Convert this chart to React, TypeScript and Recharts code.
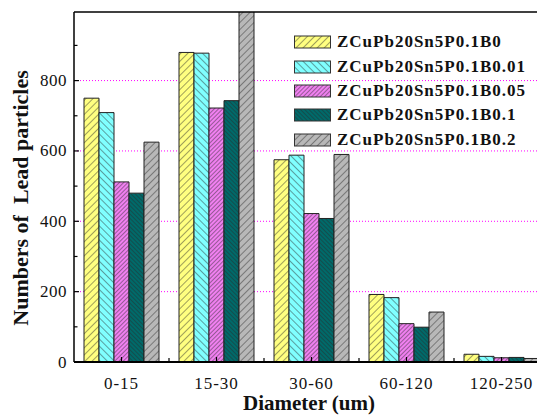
import { BarChart, Bar, XAxis, YAxis, CartesianGrid, ReferenceLine } from 'recharts';

const diameters = ['0-15', '15-30', '30-60', '60-120', '120-250'];
const seriesNames = [
    'ZCuPb20Sn5P0.1B0',
    'ZCuPb20Sn5P0.1B0.01',
    'ZCuPb20Sn5P0.1B0.05',
    'ZCuPb20Sn5P0.1B0.1',
    'ZCuPb20Sn5P0.1B0.2',
];
const b0 = [750, 880, 575, 192, 22];
const b001 = [709, 878, 588, 183, 16];
const b005 = [512, 722, 422, 109, 12];
const b01 = [480, 743, 408, 99, 13];
const b02 = [625, 1000, 590, 142, 10];
const yTicks = [0, 100, 200, 300, 400, 500, 600, 700, 800, 900];
const gridValues = [200, 400, 600, 800];
const yMax = 995;

const seriesValues = [b0, b001, b005, b01, b02];
const data = diameters.map((d, i) => {
    const row: Record<string, string | number> = { diameter: d };
    seriesNames.forEach((name, s) => {
        row[name] = seriesValues[s][i];
    });
    return row;
});

// fill colour, hatch direction and hatch spacing for each series
const hatches = [
    { color: '#ffff80', angle: 45, gap: 5 },
    { color: '#80ffff', angle: -45, gap: 5 },
    { color: '#f080f0', angle: 45, gap: 3 },
    { color: '#006a6a', angle: -45, gap: 3 },
    { color: '#b8b8b8', angle: 45, gap: 5 },
];

const serif = '"Liberation Serif", "Times New Roman", serif';

const YTick = (props: any) => {
    const { x, y, payload } = props;
    const v = Number(payload.value);
    const major = v % 200 === 0;
    return (
        <g>
            <line x1={x} x2={x + (major ? 5 : 3.5)} y1={y} y2={y} stroke="#000" strokeWidth={1.2} />
            {major ? (
                <text
                    x={x - 7}
                    y={y}
                    textAnchor="end"
                    dominantBaseline="central"
                    fontFamily={serif}
                    fontSize={17}
                    letterSpacing={0.5}
                    fill="#111"
                >
                    {String(v)}
                </text>
            ) : null}
        </g>
    );
};

const XTick = (props: any) => {
    const { x, y, payload, index } = props;
    const half = payload.offset ?? 47.5;
    return (
        <g>
            <line x1={x} x2={x} y1={y} y2={y - 5} stroke="#000" strokeWidth={1.2} />
            {index < diameters.length - 1 && (
                <line x1={x + half} x2={x + half} y1={y} y2={y - 4} stroke="#000" strokeWidth={1.2} />
            )}
            <text
                x={x}
                y={y + 21}
                textAnchor="middle"
                dominantBaseline="central"
                fontFamily={serif}
                fontSize={17}
                letterSpacing={1}
                fill="#111"
            >
                {payload.value}
            </text>
        </g>
    );
};

const LegendBox = () => (
    <div style={{ position: 'absolute', left: 294, top: 30, fontFamily: serif }}>
        {seriesNames.map((name, i) => (
            <div key={name} style={{ display: 'flex', alignItems: 'center', height: 24.4 }}>
                <svg width={37} height={14} style={{ marginRight: 6 }}>
                    <rect x={0.5} y={1} width={36} height={12} fill={`url(#hatch${i})`} stroke="#333" strokeWidth={1} />
                </svg>
                <span style={{ fontSize: 17, fontWeight: 'bold', letterSpacing: 1, color: '#111', whiteSpace: 'nowrap' }}>
                    {name}
                </span>
            </div>
        ))}
    </div>
);

export default function App() {
    return (
        <div style={{ position: 'absolute', left: 0, top: 0, width: 537, height: 415, overflow: 'hidden', background: '#fff' }}>
            <BarChart
                width={560}
                height={415}
                data={data}
                margin={{ top: 12, right: 11, bottom: 0, left: 0 }}
                barSize={15}
                barGap={0}
            >
                <defs>
                    {hatches.map((h, i) => (
                        <pattern
                            key={i}
                            id={`hatch${i}`}
                            patternUnits="userSpaceOnUse"
                            width={h.gap}
                            height={h.gap}
                            patternTransform={`rotate(${h.angle})`}
                        >
                            <rect width={h.gap} height={h.gap} fill={h.color} />
                            <line x1={0} y1={0} x2={0} y2={h.gap} stroke="#2a2a2a" strokeWidth={0.9} />
                        </pattern>
                    ))}
                </defs>
                <CartesianGrid
                    vertical={false}
                    horizontalValues={gridValues}
                    stroke="#ff00ff"
                    strokeDasharray="1 2"
                    strokeWidth={1}
                />
                <XAxis
                    dataKey="diameter"
                    height={53}
                    tick={<XTick />}
                    tickLine={false}
                    tickSize={0}
                    tickMargin={0}
                    axisLine={{ stroke: '#000', strokeWidth: 2 }}
                    interval={0}
                    label={() => (
                        <text
                            x={309}
                            y={410}
                            textAnchor="middle"
                            fontFamily={serif}
                            fontSize={21}
                            fontWeight="bold"
                            fill="#111"
                        >
                            Diameter (um)
                        </text>
                    )}
                />
                <YAxis
                    width={74}
                    domain={[0, yMax]}
                    ticks={yTicks}
                    interval={0}
                    allowDataOverflow
                    tick={<YTick />}
                    tickLine={false}
                    tickSize={0}
                    tickMargin={0}
                    axisLine={{ stroke: '#000', strokeWidth: 1.5 }}
                    label={() => (
                        <text
                            x={28}
                            y={198}
                            transform="rotate(-90, 28, 198)"
                            textAnchor="middle"
                            fontFamily={serif}
                            fontSize={22}
                            fontWeight="bold"
                            fill="#111"
                            style={{ whiteSpace: 'pre' }}
                        >
                            {'Numbers of  Lead particles'}
                        </text>
                    )}
                />
                <ReferenceLine y={yMax} stroke="#000" strokeWidth={1.5} />
                {seriesNames.map((name, i) => (
                    <Bar
                        key={name}
                        dataKey={name}
                        fill={`url(#hatch${i})`}
                        stroke="#222"
                        strokeWidth={1}
                        isAnimationActive={false}
                    />
                ))}
            </BarChart>
            <LegendBox />
        </div>
    );
}
